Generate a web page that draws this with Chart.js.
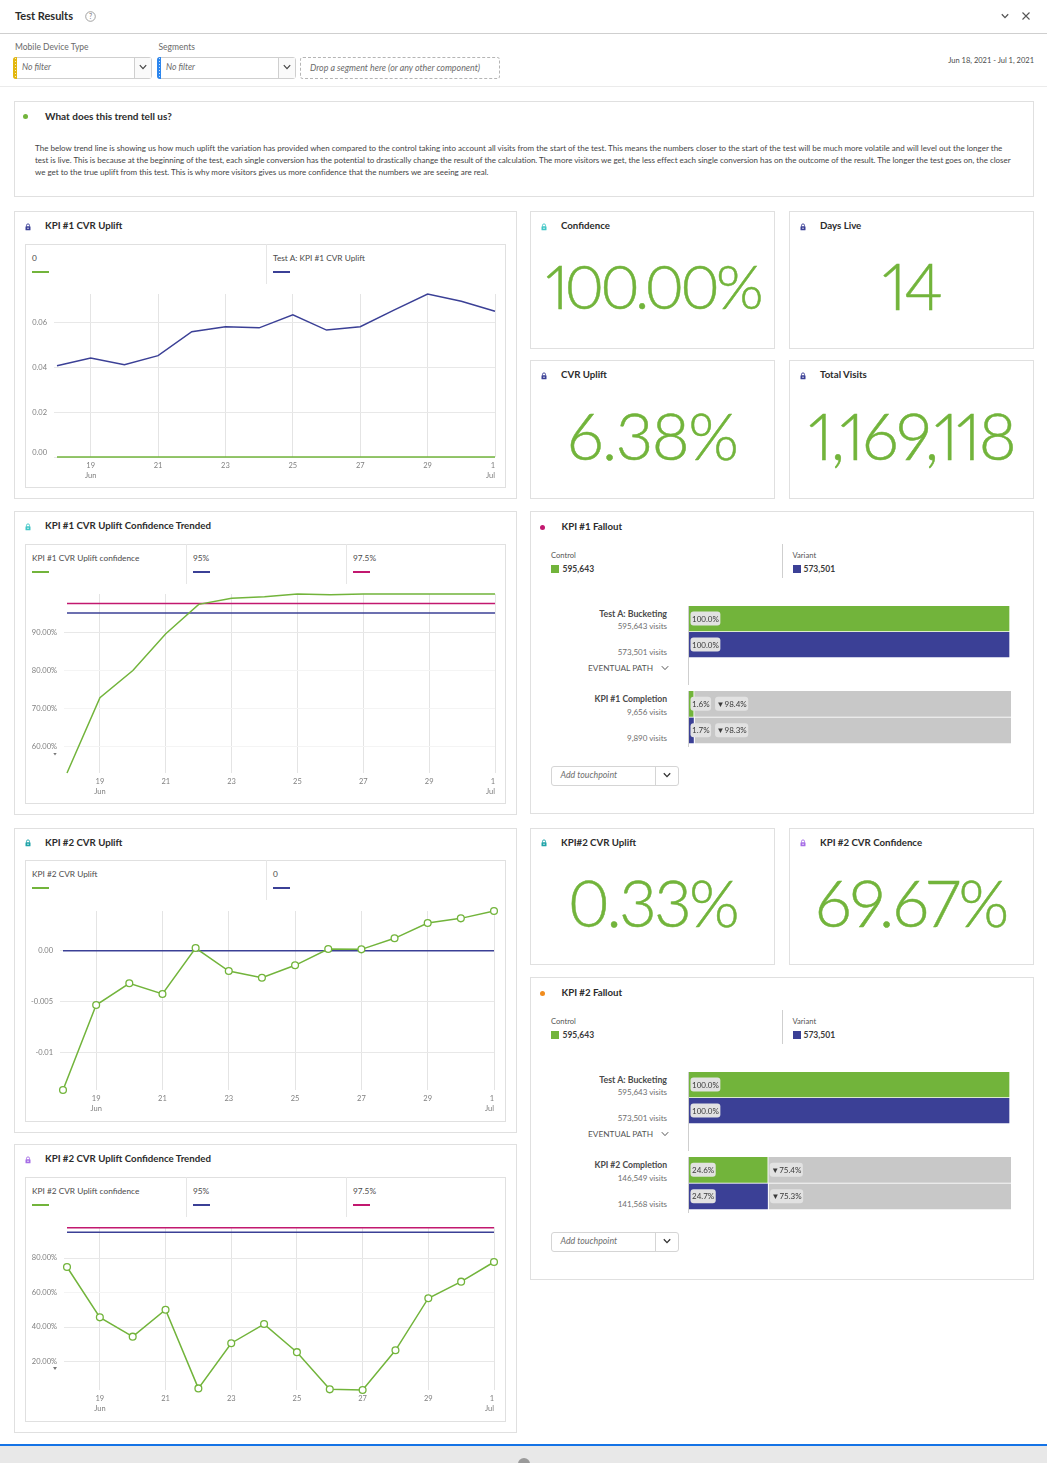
<!DOCTYPE html>
<html><head><meta charset="utf-8">
<script src="https://cdn.jsdelivr.net/npm/chart.js@4"></script>
<style>
html,body{margin:0;padding:0;background:#fff}
#page{position:relative;width:1047px;height:1463px;overflow:hidden;background:#fff;font-family:Lato,sans-serif}
#page div,#page canvas,#page svg{position:absolute;box-sizing:border-box}
.t{white-space:nowrap}
</style></head><body><div id="page"></div>
<script>
const GREEN='#72b43b',BLUE='#3b4096',PINK='#c2186f',GREY='#c8c8c8';
const days=['18','19','20','21','22','23','24','25','26','27','28','29','30','1'];
const xTickLabels=[' ',['19','Jun'],null,['21'],null,['23'],null,['25'],null,['27'],null,['29'],null,['1','Jul']];

const kpi1Uplift=[0.0407,0.0441,0.0412,0.0452,0.0559,0.0581,0.0576,0.0634,0.0566,0.0581,0.0655,0.0727,0.0695,0.0650];
const kpi1Zero=[0,0,0,0,0,0,0,0,0,0,0,0,0,0];
const kpi1YTicks=[0,0.02,0.04,0.06];
const kpi1YLabels=[['0.00',''],'0.02','0.04','0.06'];

const kpi1Confidence=[53.2,72.9,80,89.6,97.3,98.9,99.3,100,99.8,100,100,100,100,100];
const conf95=[95,95,95,95,95,95,95,95,95,95,95,95,95,95];
const conf975=[97.5,97.5,97.5,97.5,97.5,97.5,97.5,97.5,97.5,97.5,97.5,97.5,97.5,97.5];
const kpi1ConfYTicks=[60,70,80,90];
const kpi1ConfYLabels=['60.00%','70.00%','80.00%','90.00%'];

const kpi2Uplift=[-0.01362,-0.00531,-0.00319,-0.00423,0.00026,-0.00199,-0.00264,-0.00143,0.00016,0.00013,0.00121,0.0027,0.00316,0.00388];
const kpi2Zero=[0,0,0,0,0,0,0,0,0,0,0,0,0,0];
const kpi2YTicks=[-0.01,-0.005,0];
const kpi2YLabels=['-0.01','-0.005','0.00'];

const kpi2Confidence=[74.8,45.6,34.4,50,4.4,30.6,41.7,25.4,3.85,3.46,26.5,56.7,66.3,77.7];
const kpi2ConfYTicks=[20,40,60,80];
const kpi2ConfYLabels=['20.00%','40.00%','60.00%','80.00%'];

const fallout1Step1Reached=[100,100], fallout1Step1Dropped=[0,0];
const fallout1Step1Labels=['100.0%','100.0%'], fallout1Step1DropLabels=[null,null];
const fallout1Step2Reached=[1.6,1.7], fallout1Step2Dropped=[98.4,98.3];
const fallout1Step2Labels=['1.6%','1.7%'], fallout1Step2DropLabels=['▼98.4%','▼98.3%'];
const fallout2Step2Reached=[24.6,24.7], fallout2Step2Dropped=[75.4,75.3];
const fallout2Step2Labels=['24.6%','24.7%'], fallout2Step2DropLabels=['▼75.4%','▼75.3%'];
const falloutCategories=['Control','Variant'];

const page=document.getElementById('page');
function box(x0,y0,x1,y1,css){const d=document.createElement('div');
  d.style.cssText=`left:${x0}px;top:${y0}px;width:${x1-x0}px;height:${y1-y0}px;`+(css||'');page.appendChild(d);return d;}
function panel(x0,y0,x1,y1,c){return box(x0,y0,x1,y1,`border:${c||'1px solid #e0e0e0'};`);}
function T(x,y,s,o={}){const size=o.size||8,lh=size*1.4,d=document.createElement('div');d.className='t';
  d.textContent=s;
  const dy=size>20?0:(size>=9.3?-0.3:(o.w===700?0:0.7));
  let css=`top:${y+dy-lh/2}px;line-height:${lh}px;font-size:${size}px;color:${o.color||'#4b4b4b'};font-weight:${o.w||400};`;
  if(o.italic)css+='font-style:italic;';
  if(o.ls!=null)css+=`letter-spacing:${o.ls}px;`;
  if(o.pnum)css+=`font-variant-numeric:proportional-nums;-webkit-text-stroke:0.5px ${o.color};`;
  css+=o.align==='r'?`right:${1047-x}px;`:o.align==='c'?`left:${x}px;transform:translateX(-50%);`:`left:${x}px;`;
  d.style.cssText=css;page.appendChild(d);return d;}
function svg(x,y,w,h,inner){const s=document.createElementNS('http://www.w3.org/2000/svg','svg');
  s.setAttribute('width',w);s.setAttribute('height',h);s.setAttribute('viewBox',`0 0 ${w} ${h}`);
  s.style.cssText=`left:${x}px;top:${y}px;`;s.innerHTML=inner;page.appendChild(s);}
function lock(cx,cy,c){svg(cx-3,cy-4,6,8,`<path d="M1.5 3.5V2.4a1.5 1.5 0 0 1 3 0v1.1" fill="none" stroke="${c}" stroke-width="0.9"/><rect x="0.5" y="3.3" width="5" height="4" rx="0.6" fill="${c}"/><circle cx="3" cy="5.3" r="0.7" fill="#fff"/>`);}
function dot(cx,cy,c){box(cx-2.5,cy-2.5,cx+2.5,cy+2.5,`background:${c};border-radius:50%;`);}
function chev(cx,cy,c,w){svg(cx-5,cy-4,10,8,`<path d="M1.8 2.2L5 5.6L8.2 2.2" fill="none" stroke="${c||'#555'}" stroke-width="${w||1.1}"/>`);}
const TITLE={size:9.7,w:700,color:'#2c2c2c'};

/* ---------- header ---------- */
T(15,16,'Test Results',{...TITLE,size:11});
svg(85,10.5,11,11,`<circle cx="5.5" cy="5.5" r="4.8" fill="none" stroke="#8a8a8a" stroke-width="0.8"/><text x="5.5" y="8" font-size="7" text-anchor="middle" fill="#7a7a7a" font-family="Lato">?</text>`);
chev(1005,16,'#555',1.3);
svg(1021,11,10,10,`<path d="M1.5 1.5L8.5 8.5M8.5 1.5L1.5 8.5" stroke="#555" stroke-width="1.1"/>`);
box(0,33,1047,34,'background:#cfcfcf;');
T(15,47,'Mobile Device Type',{size:8.5,color:'#6a6a6a'});
T(158.5,47,'Segments',{size:8.5,color:'#6a6a6a'});
function filter(x0,x1,c){
  box(x0,56.5,x1,78.5,'border:1px solid #cfcfcf;border-radius:3px;');
  box(x0,56.5,x0+4,78.5,`background:${c};border-radius:3px 0 0 3px;`);
  box(x0+1.5,58,x0+2.5,77,'background:repeating-linear-gradient(to bottom,rgba(255,255,255,.75) 0 1px,transparent 1px 3px);');
  box(x1-17.5,57.5,x1-1,77.5,'background:#fafafa;border-left:1px solid #cfcfcf;');
  chev(x1-8.5,67,'#444',1.2);
  T(x0+9,66.5,'No filter',{italic:true,size:8.6,color:'#6a6a6a'});
}
filter(13,151.5,'#e3b70f');filter(157,295.5,'#2c86ee');
box(300,56.5,500,79,'border:1px dashed #b5b5b5;border-radius:3px;');
T(310,67.5,'Drop a segment here (or any other component)',{italic:true,size:8.85,color:'#6a6a6a'});
T(1034,60.5,'Jun 18, 2021 - Jul 1, 2021',{align:'r',size:7.5,color:'#4b4b4b'});
box(0,86,1047,87,'background:#ebebeb;');

panel(14,101,1034,197);
dot(25.5,116.5,GREEN);
T(45,116.5,'What does this trend tell us?',{...TITLE,size:10});
[['The below trend line is showing us how much uplift the variation has provided when compared to the control taking into account all visits from the start of the test. This means the numbers closer to the start of the test will be much more volatile and will level out the longer the',148,0.011],
 ['test is live. This is because at the beginning of the test, each single conversion has the potential to drastically change the result of the calculation. The more visitors we get, the less effect each single conversion has on the outcome of the result. The longer the test goes on, the closer',160,-0.017],
 ['we get to the true uplift from this test. This is why more visitors gives us more confidence that the numbers we are seeing are real.',172,-0.007]
].forEach(([s,y,ls])=>T(35,y,s,{size:8,color:'#444',ls}));

/* ---------- tiles ---------- */
function tile(x0,y0,x1,y1,title,val,col,valY,titleY,size,ls){
  panel(x0,y0,x1,y1);
  lock(x0+13.5,titleY,col);
  T(x0+31,titleY,title,TITLE);
  T((x0+x1)/2,valY,val,{align:'c',size:size,w:300,color:GREEN,ls:ls,pnum:true});
}
tile(530,211,775,349,'Confidence','100.00%','#41c6c6',286,226.5,61,-3.9);
tile(789,211,1034,349,'Days Live','14','#3b4096',285,226.5,65,-2);
tile(530,360,775,499,'CVR Uplift','6.38%','#3b4096',435,375.5,65,-1.4);
tile(789,360,1034,499,'Total Visits','1,169,118','#3b4096',435,375.5,65,-2);
tile(530,827.5,775,965,'KPI#2 CVR Uplift','0.33%','#1fa3a8',902,843,65,-2.5);
tile(789,827.5,1034,965,'KPI #2 CVR Confidence','69.67%','#a66ee6',902,843,65,-1.5);

/* ---------- line charts ---------- */
function lineChart(cfg){
  const {panelBox,inner,title,iconColor,legend,plot,yMin,yMax,yTicks,yLabels,series,markers,lightTicks}=cfg;
  panel(...panelBox);
  lock(27.5,panelBox[1]+15.5,iconColor);
  T(45,panelBox[1]+15.5,title,TITLE);
  panel(...inner);
  const ly=inner[1]+13.5;
  legend.forEach((l,i)=>{
    T(l.x,ly+0.5,l.label,{size:8.3,color:'#4b4b4b'});
    box(l.x,ly+13,l.x+17,ly+15,`background:${l.color};`);
    if(i>0) box(l.x-7.5,inner[1],l.x-6.5,inner[1]+40,'background:#e6e6e6;');
  });
  const cx=inner[0]+1,cy=plot.top-8,cw=plot.right+8-cx,ch=inner[3]-1-cy;
  const c=document.createElement('canvas');c.width=cw;c.height=ch;
  c.style.cssText=`left:${cx}px;top:${cy}px;width:${cw}px;height:${ch}px;`;page.appendChild(c);
  new Chart(c,{type:'line',
    data:{labels:days,datasets:series.map((s,i)=>({
      data:s.data,borderColor:s.color,borderWidth:1.5,tension:0,clip:false,
      pointRadius:markers&&i===0?3.4:0,pointBorderWidth:1.3,pointBorderColor:s.color,pointBackgroundColor:'#fff'}))},
    options:{responsive:false,animation:false,devicePixelRatio:1,events:[],
      layout:{padding:{top:8,right:8,left:0,bottom:0}},
      plugins:{legend:{display:false},tooltip:{enabled:false}},
      scales:{
        x:{offset:false,border:{display:false},
          grid:{color:ctx=>ctx.index===0?'rgba(0,0,0,0)':'#e4e4e4',lineWidth:1,drawTicks:false},
          ticks:{autoSkip:false,maxRotation:0,align:'inner',padding:3.5,color:'#808080',
            font:{family:'Lato',size:7.5,lineHeight:'10px'},
            callback:(v,i)=>xTickLabels[i]},
          afterFit:s=>{s.height=ch-(plot.bottom-cy);s.paddingLeft=0;s.paddingRight=0;}},
        y:{min:yMin,max:yMax,border:{display:false},
          grid:{color:ctx=>(lightTicks||[]).includes(ctx.tick.value)?'#f4f4f4':'#e8e8e8',tickLength:3,lineWidth:1},
          ticks:{autoSkip:false,padding:7,color:'#808080',font:{family:'Lato',size:7.5,lineHeight:'8px'},
            callback:(v,i)=>yLabels[i]},
          afterBuildTicks:s=>{s.ticks=yTicks.map(v=>({value:v}));},
          afterFit:s=>{s.width=plot.left-cx;s.paddingTop=0;s.paddingBottom=0;}}
      }}});
}
lineChart({panelBox:[14,211,517,499],inner:[25,244,506,488],title:'KPI #1 CVR Uplift',iconColor:'#3b4096',
  legend:[{x:32,label:'0',color:GREEN},{x:273,label:'Test A: KPI #1 CVR Uplift',color:BLUE}],
  plot:{left:57,right:495,top:294,bottom:457},yMin:0,yMax:0.0727,yTicks:kpi1YTicks,yLabels:kpi1YLabels,
  series:[{data:kpi1Zero,color:GREEN},{data:kpi1Uplift,color:BLUE}]});
lineChart({panelBox:[14,511,517,814.5],inner:[25,544,506,804],title:'KPI #1 CVR Uplift Confidence Trended',iconColor:'#41c6c6',
  legend:[{x:32,label:'KPI #1 CVR Uplift confidence',color:GREEN},{x:193,label:'95%',color:BLUE},{x:353,label:'97.5%',color:PINK}],
  plot:{left:67,right:495,top:594,bottom:773},yMin:53.2,yMax:100,yTicks:kpi1ConfYTicks,yLabels:kpi1ConfYLabels,lightTicks:[60,70,80],
  series:[{data:kpi1Confidence,color:GREEN},{data:conf95,color:BLUE},{data:conf975,color:PINK}]});
lineChart({panelBox:[14,827.5,517,1133],inner:[25,860,506,1122],title:'KPI #2 CVR Uplift',iconColor:'#1fa3a8',
  legend:[{x:32,label:'KPI #2 CVR Uplift',color:GREEN},{x:273,label:'0',color:BLUE}],
  plot:{left:63,right:494,top:911,bottom:1090},yMin:-0.01362,yMax:0.00388,yTicks:kpi2YTicks,yLabels:kpi2YLabels,markers:true,
  series:[{data:kpi2Uplift,color:GREEN},{data:kpi2Zero,color:BLUE}]});
lineChart({panelBox:[14,1144,517,1433],inner:[25,1177,506,1422],title:'KPI #2 CVR Uplift Confidence Trended',iconColor:'#a66ee6',
  legend:[{x:32,label:'KPI #2 CVR Uplift confidence',color:GREEN},{x:193,label:'95%',color:BLUE},{x:353,label:'97.5%',color:PINK}],
  plot:{left:67,right:494,top:1227,bottom:1390},yMin:3.46,yMax:98,yTicks:kpi2ConfYTicks,yLabels:kpi2ConfYLabels,markers:true,lightTicks:[60],
  series:[{data:kpi2Confidence,color:GREEN},{data:conf95,color:BLUE},{data:conf975,color:PINK}]});
/* small axis carets */
[754,1368.5].forEach(y=>box(53,y-1.5,57,y+1.5,'background:#777;clip-path:polygon(0 0,100% 0,50% 100%);'));

/* ---------- fallout ---------- */
const pillPlugin={id:'pills',afterDatasetsDraw(chart){
  const ctx=chart.ctx;ctx.save();ctx.font='8px Lato';ctx.textBaseline='middle';
  for(let i=0;i<2;i++){
    let next=0;
    chart.data.datasets.forEach((ds,d)=>{
      const lab=ds.pillLabels[i];if(!lab)return;
      const el=chart.getDatasetMeta(d).data[i];
      const left=Math.max(Math.min(el.x,el.base)+1.5,next);
      const w=ctx.measureText(lab).width+3,y=el.y-0.5;
      ctx.fillStyle='#e2e2e2';ctx.beginPath();ctx.roundRect(left,y-7,w,14,3);ctx.fill();
      ctx.fillStyle='#3a3a3a';ctx.textAlign='left';ctx.fillText(lab,left+1.5,y+0.5);
      next=left+w+4;
    });
  }
  ctx.restore();
}};
function stepChart(top,h,thick,reached,dropped,labels,dropLabels,rightGap){
  const x=689,w=322,c=document.createElement('canvas');c.width=w;c.height=h;
  c.style.cssText=`left:${x}px;top:${top}px;width:${w}px;height:${h}px;`;page.appendChild(c);
  new Chart(c,{type:'bar',plugins:[pillPlugin],
    data:{labels:falloutCategories,datasets:[
      {data:reached,backgroundColor:[GREEN,BLUE],borderColor:'#fff',borderWidth:{right:rightGap,bottom:1},borderSkipped:false,barThickness:thick,pillLabels:labels},
      {data:dropped,backgroundColor:GREY,borderColor:'#fff',borderWidth:{bottom:1},borderSkipped:false,barThickness:thick,pillLabels:dropLabels}
    ]},
    options:{indexAxis:'y',responsive:false,animation:false,devicePixelRatio:1,events:[],
      layout:{padding:0},
      plugins:{legend:{display:false},tooltip:{enabled:false}},
      scales:{x:{display:false,stacked:true,min:0,max:100},y:{display:false,stacked:true}}}});
}
function fallout(dy,title,dotColor,stepName,v1,v2,reached,dropped,labels,dropLabels){
  panel(530,511+dy,1034,814+dy);
  dot(542.5,527+dy,dotColor);
  T(561.5,527.5+dy,title,TITLE);
  T(551,555+dy,'Control',{size:7.6,color:'#555'});
  box(551,565+dy,559,573+dy,`background:${GREEN};`);
  T(562.5,570+dy,'595,643',{size:8.5,w:700,color:'#3a3a3a'});
  box(782,544+dy,783,578+dy,'background:#cfcfcf;');
  T(792.5,555+dy,'Variant',{size:7.6,color:'#555'});
  box(793,565+dy,801,573+dy,`background:${BLUE};`);
  T(803.5,570+dy,'573,501',{size:8.5,w:700,color:'#3a3a3a'});
  T(667,614+dy,'Test A: Bucketing',{align:'r',size:8.8,w:700,color:'#4a4a4a'});
  T(667,626+dy,'595,643 visits',{align:'r',size:8,color:'#6e6e6e'});
  T(667,652+dy,'573,501 visits',{align:'r',size:8,color:'#6e6e6e'});
  T(653,668+dy,'EVENTUAL PATH',{align:'r',size:8.3,color:'#555'});
  chev(664.5,668+dy,'#555',1);
  T(667,699+dy,stepName,{align:'r',size:8.6,w:700,color:'#4a4a4a'});
  T(667,712+dy,v1,{align:'r',size:8,color:'#6e6e6e'});
  T(667,738+dy,v2,{align:'r',size:8,color:'#6e6e6e'});
  box(688,606+dy,689,685+dy,'background:#cfcfcf;');
  box(688,691+dy,689,747+dy,'background:#cfcfcf;');
  box(1010,606+dy,1011,658+dy,'background:#cfcfcf;');
  stepChart(606+dy,52,26,fallout1Step1Reached,fallout1Step1Dropped,fallout1Step1Labels,fallout1Step1DropLabels,2);
  stepChart(691+dy,53,26.5,reached,dropped,labels,dropLabels,1);
  box(551,765.5+dy,678.5,785.5+dy,'border:1px solid #d5d5d5;border-radius:3px;');
  box(655,766+dy,656,785+dy,'background:#d5d5d5;');
  T(560.5,774.5+dy,'Add touchpoint',{italic:true,size:8.8,color:'#6e6e6e'});
  chev(667,775+dy,'#333',1.3);
}
fallout(0,'KPI #1 Fallout',PINK,'KPI #1 Completion','9,656 visits','9,890 visits',fallout1Step2Reached,fallout1Step2Dropped,fallout1Step2Labels,fallout1Step2DropLabels);
fallout(466,'KPI #2 Fallout','#f08c1e','KPI #2 Completion','146,549 visits','141,568 visits',fallout2Step2Reached,fallout2Step2Dropped,fallout2Step2Labels,fallout2Step2DropLabels);

/* ---------- page bottom ---------- */
box(0,1445,1047,1463,'background:#e8e8e8;');
box(0,1444,1047,1445.5,'background:#1473e6;');
box(518,1458,530,1470,'background:#9a9a9a;border-radius:50%;');
</script></body></html>
